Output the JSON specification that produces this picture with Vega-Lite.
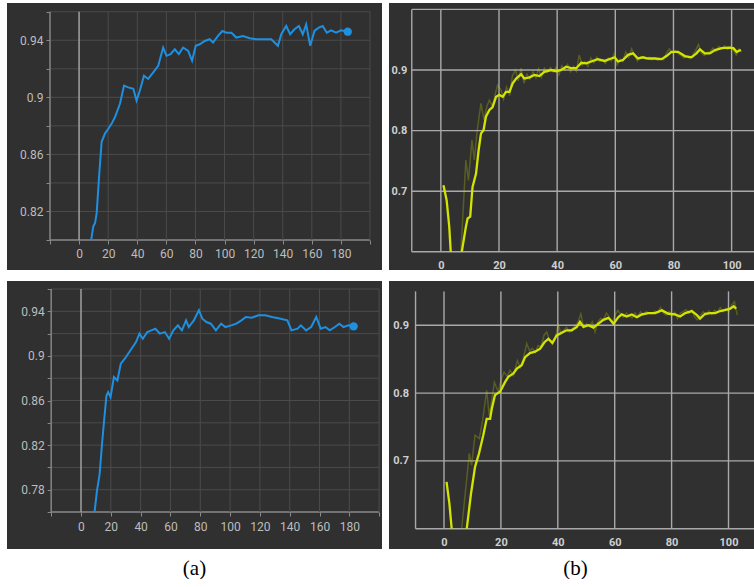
{
  "$schema": "https://vega.github.io/schema/vega-lite/v6.json",
  "padding": {"left": 7, "top": 3, "right": 0, "bottom": 0},
  "background": "#ffffff",
  "config": {
    "view": {"fill": "#303030", "stroke": null},
    "axis": {"labelFont": "Roboto", "labelOverlap": false, "labelFlush": false, "grid": false, "domain": false, "zindex": 1}
  },
  "datasets": {
    "tl_h": [{"v":0.80},{"v":0.82},{"v":0.84},{"v":0.86},{"v":0.88},{"v":0.90},{"v":0.92},{"v":0.94},{"v":0.96}],
    "lv": [{"v":-20},{"v":0},{"v":20},{"v":40},{"v":60},{"v":80},{"v":100},{"v":120},{"v":140},{"v":160},{"v":180},{"v":200}],
    "bl_h": [{"v":0.76},{"v":0.78},{"v":0.80},{"v":0.82},{"v":0.84},{"v":0.86},{"v":0.88},{"v":0.90},{"v":0.92},{"v":0.94},{"v":0.96}],
    "tr_h": [{"v":0.6},{"v":0.7},{"v":0.8},{"v":0.9},{"v":1.0}],
    "br_h": [{"v":0.6},{"v":0.7},{"v":0.8},{"v":0.9}],
    "rv": [{"v":-10},{"v":0},{"v":20},{"v":40},{"v":60},{"v":80},{"v":100}],
    "tl": [
      {"x":8.3,"y":0.800},{"x":9.8,"y":0.8097},{"x":11,"y":0.812},{"x":12.1,"y":0.819},{"x":13.9,"y":0.8468},{"x":15.5,"y":0.8688},{"x":17.8,"y":0.8746},{"x":20.1,"y":0.878},{"x":22.4,"y":0.8816},{"x":24.7,"y":0.8862},{"x":28.1,"y":0.8955},{"x":30.9,"y":0.9082},{"x":33.8,"y":0.907},{"x":37.3,"y":0.906},{"x":39.5,"y":0.8978},{"x":41.8,"y":0.9048},{"x":44.6,"y":0.9152},{"x":47.5,"y":0.9129},{"x":51.0,"y":0.9175},{"x":54.4,"y":0.9221},{"x":57.8,"y":0.9349},{"x":60.1,"y":0.9291},{"x":62.9,"y":0.9303},{"x":65.8,"y":0.9337},{"x":68.6,"y":0.9303},{"x":71.5,"y":0.9349},{"x":75.0,"y":0.9326},{"x":77.7,"y":0.9256},{"x":80.2,"y":0.9361},{"x":83.0,"y":0.9372},{"x":86.4,"y":0.9395},{"x":89.8,"y":0.9407},{"x":92.1,"y":0.9384},{"x":95.5,"y":0.943},{"x":98.5,"y":0.9465},{"x":101.3,"y":0.9453},{"x":104.7,"y":0.9453},{"x":108.1,"y":0.9419},{"x":112.7,"y":0.943},{"x":117.3,"y":0.9414},{"x":121.8,"y":0.9407},{"x":126.4,"y":0.9407},{"x":132.1,"y":0.9407},{"x":136.7,"y":0.9361},{"x":139,"y":0.9442},{"x":142.4,"y":0.95},{"x":145.1,"y":0.9442},{"x":148.1,"y":0.9477},{"x":151.1,"y":0.95},{"x":153.8,"y":0.9442},{"x":156.1,"y":0.9511},{"x":158.9,"y":0.9361},{"x":161.8,"y":0.9465},{"x":164.8,"y":0.9488},{"x":167.5,"y":0.95},{"x":170.3,"y":0.9453},{"x":173.3,"y":0.947},{"x":176.7,"y":0.9453},{"x":180.1,"y":0.947},{"x":184.7,"y":0.946}
    ],
    "tl_end": [{"x":184.7,"y":0.946}],
    "bl": [
      {"x":9.1,"y":0.76},{"x":10.7,"y":0.779},{"x":12.5,"y":0.794},{"x":14.1,"y":0.821},{"x":15.7,"y":0.845},{"x":17.1,"y":0.8645},{"x":18.2,"y":0.8675},{"x":19.8,"y":0.863},{"x":22.1,"y":0.881},{"x":24.4,"y":0.878},{"x":26.7,"y":0.893},{"x":29.4,"y":0.8975},{"x":32.4,"y":0.9035},{"x":34.7,"y":0.908},{"x":36.9,"y":0.9124},{"x":39.2,"y":0.92},{"x":41.5,"y":0.9154},{"x":44.5,"y":0.9214},{"x":47.2,"y":0.9229},{"x":49.9,"y":0.9244},{"x":52.9,"y":0.92},{"x":56.3,"y":0.9214},{"x":59.1,"y":0.9154},{"x":62.0,"y":0.9229},{"x":65,"y":0.9274},{"x":67.7,"y":0.9229},{"x":70.5,"y":0.9319},{"x":72.3,"y":0.9259},{"x":75.7,"y":0.9319},{"x":79.1,"y":0.941},{"x":81.4,"y":0.9334},{"x":84.1,"y":0.9304},{"x":87.1,"y":0.9289},{"x":90.5,"y":0.9229},{"x":94.0,"y":0.9289},{"x":96.9,"y":0.9259},{"x":100.8,"y":0.9274},{"x":104.2,"y":0.9289},{"x":107.6,"y":0.9319},{"x":110.6,"y":0.9349},{"x":114.5,"y":0.9343},{"x":119,"y":0.9364},{"x":123.6,"y":0.9364},{"x":128.2,"y":0.9349},{"x":133.9,"y":0.9334},{"x":138.4,"y":0.9319},{"x":141.2,"y":0.9229},{"x":145.3,"y":0.9244},{"x":147.5,"y":0.9274},{"x":151,"y":0.9229},{"x":154.4,"y":0.9259},{"x":157.8,"y":0.9349},{"x":160.8,"y":0.9244},{"x":164,"y":0.9259},{"x":166.9,"y":0.9229},{"x":170.3,"y":0.9259},{"x":173.3,"y":0.9289},{"x":176.1,"y":0.9259},{"x":179.5,"y":0.9274},{"x":182.9,"y":0.9265}
    ],
    "bl_end": [{"x":182.9,"y":0.9265}],
    "tr_s": [
      {"seg":1,"x":0.9,"y":0.710},{"seg":1,"x":2.0,"y":0.685},{"seg":1,"x":2.9,"y":0.641},{"seg":1,"x":3.4,"y":0.6},
      {"seg":2,"x":7.2,"y":0.6},{"seg":2,"x":8.6,"y":0.641},{"seg":2,"x":9.2,"y":0.655},{"seg":2,"x":10.1,"y":0.658},{"seg":2,"x":10.9,"y":0.707},{"seg":2,"x":12.1,"y":0.729},{"seg":2,"x":13.0,"y":0.768},{"seg":2,"x":13.8,"y":0.795},{"seg":2,"x":14.7,"y":0.801},{"seg":2,"x":15.5,"y":0.823},{"seg":2,"x":16.7,"y":0.834},{"seg":2,"x":17.8,"y":0.839},{"seg":2,"x":19.0,"y":0.856},{"seg":2,"x":20.1,"y":0.859},{"seg":2,"x":21.3,"y":0.856},{"seg":2,"x":22.4,"y":0.864},{"seg":2,"x":23.6,"y":0.864},{"seg":2,"x":24.7,"y":0.878},{"seg":2,"x":25.9,"y":0.886},{"seg":2,"x":27.6,"y":0.893},{"seg":2,"x":28.7,"y":0.886},{"seg":2,"x":30.5,"y":0.888},{"seg":2,"x":32.2,"y":0.892},{"seg":2,"x":33.9,"y":0.890},{"seg":2,"x":35.6,"y":0.897},{"seg":2,"x":37.9,"y":0.900},{"seg":2,"x":39.7,"y":0.898},{"seg":2,"x":41.4,"y":0.900},{"seg":2,"x":43.1,"y":0.9055},{"seg":2,"x":44.8,"y":0.903},{"seg":2,"x":46.6,"y":0.903},{"seg":2,"x":48.3,"y":0.912},{"seg":2,"x":50,"y":0.911},{"seg":2,"x":51.7,"y":0.914},{"seg":2,"x":54,"y":0.918},{"seg":2,"x":56.3,"y":0.915},{"seg":2,"x":58.6,"y":0.919},{"seg":2,"x":59.8,"y":0.921},{"seg":2,"x":60.9,"y":0.914},{"seg":2,"x":62.6,"y":0.9165},{"seg":2,"x":64.4,"y":0.925},{"seg":2,"x":66.1,"y":0.9275},{"seg":2,"x":67.8,"y":0.919},{"seg":2,"x":69.5,"y":0.921},{"seg":2,"x":71.3,"y":0.919},{"seg":2,"x":73.6,"y":0.919},{"seg":2,"x":75.9,"y":0.918},{"seg":2,"x":77.6,"y":0.923},{"seg":2,"x":79.3,"y":0.930},{"seg":2,"x":81.6,"y":0.930},{"seg":2,"x":83.9,"y":0.923},{"seg":2,"x":86.2,"y":0.921},{"seg":2,"x":87.9,"y":0.9275},{"seg":2,"x":89.1,"y":0.934},{"seg":2,"x":90.8,"y":0.9275},{"seg":2,"x":92.5,"y":0.9275},{"seg":2,"x":94.3,"y":0.933},{"seg":2,"x":96.6,"y":0.936},{"seg":2,"x":98.9,"y":0.937},{"seg":2,"x":100.6,"y":0.936},{"seg":2,"x":101.7,"y":0.930},{"seg":2,"x":103.2,"y":0.933}
    ],
    "tr_r": [
      {"x":6.9,"y":0.6},{"x":8.6,"y":0.7515},{"x":9.5,"y":0.718},{"x":10.7,"y":0.7845},{"x":11.5,"y":0.7515},{"x":12.5,"y":0.80},{"x":13.8,"y":0.845},{"x":14.9,"y":0.8175},{"x":15.8,"y":0.84},{"x":16.7,"y":0.8505},{"x":17.8,"y":0.8395},{"x":18.7,"y":0.86},{"x":19.5,"y":0.875},{"x":20.7,"y":0.867},{"x":21.6,"y":0.852},{"x":22.6,"y":0.872},{"x":23.7,"y":0.858},{"x":24.6,"y":0.89},{"x":25.7,"y":0.90},{"x":26.6,"y":0.882},{"x":27.6,"y":0.903},{"x":28.6,"y":0.878},{"x":29.6,"y":0.893},{"x":30.6,"y":0.885},{"x":31.7,"y":0.897},{"x":32.7,"y":0.887},{"x":33.6,"y":0.902},{"x":34.6,"y":0.888},{"x":35.6,"y":0.903},{"x":36.6,"y":0.896},{"x":37.7,"y":0.904},{"x":38.7,"y":0.897},{"x":39.7,"y":0.905},{"x":40.6,"y":0.892},{"x":41.6,"y":0.907},{"x":42.6,"y":0.9},{"x":43.6,"y":0.909},{"x":44.6,"y":0.897},{"x":45.6,"y":0.906},{"x":46.6,"y":0.898},{"x":47.6,"y":0.925},{"x":48.6,"y":0.908},{"x":49.6,"y":0.914},{"x":50.6,"y":0.906},{"x":51.6,"y":0.92},{"x":52.6,"y":0.912},{"x":53.6,"y":0.921},{"x":54.6,"y":0.914},{"x":55.6,"y":0.917},{"x":56.6,"y":0.911},{"x":57.6,"y":0.92},{"x":58.6,"y":0.915},{"x":59.6,"y":0.927},{"x":60.6,"y":0.908},{"x":61.6,"y":0.918},{"x":62.6,"y":0.914},{"x":63.6,"y":0.93},{"x":64.6,"y":0.921},{"x":65.6,"y":0.935},{"x":66.6,"y":0.925},{"x":67.6,"y":0.915},{"x":68.6,"y":0.922},{"x":69.6,"y":0.92},{"x":70.6,"y":0.918},{"x":71.6,"y":0.921},{"x":72.6,"y":0.917},{"x":73.6,"y":0.92},{"x":74.6,"y":0.916},{"x":75.6,"y":0.919},{"x":76.6,"y":0.917},{"x":77.6,"y":0.928},{"x":78.6,"y":0.935},{"x":79.6,"y":0.928},{"x":80.6,"y":0.932},{"x":81.6,"y":0.927},{"x":82.6,"y":0.924},{"x":83.6,"y":0.92},{"x":84.6,"y":0.922},{"x":85.6,"y":0.919},{"x":86.6,"y":0.925},{"x":87.6,"y":0.932},{"x":88.6,"y":0.942},{"x":89.6,"y":0.928},{"x":90.6,"y":0.924},{"x":91.6,"y":0.929},{"x":92.6,"y":0.93},{"x":93.6,"y":0.936},{"x":94.6,"y":0.931},{"x":95.6,"y":0.939},{"x":96.6,"y":0.935},{"x":97.6,"y":0.94},{"x":98.6,"y":0.934},{"x":99.6,"y":0.939},{"x":100.6,"y":0.933},{"x":101.6,"y":0.925},{"x":102.6,"y":0.935},{"x":103.4,"y":0.93}
    ],
    "br_s": [
      {"seg":1,"x":0.9,"y":0.669},{"seg":1,"x":1.9,"y":0.637},{"seg":1,"x":2.7,"y":0.6},
      {"seg":2,"x":8.0,"y":0.6},{"seg":2,"x":9.5,"y":0.652},{"seg":2,"x":10.9,"y":0.691},{"seg":2,"x":12.3,"y":0.711},{"seg":2,"x":13.8,"y":0.738},{"seg":2,"x":15.0,"y":0.762},{"seg":2,"x":16.2,"y":0.762},{"seg":2,"x":16.8,"y":0.777},{"seg":2,"x":17.9,"y":0.797},{"seg":2,"x":19.7,"y":0.802},{"seg":2,"x":21.5,"y":0.8165},{"seg":2,"x":22.6,"y":0.824},{"seg":2,"x":24.4,"y":0.829},{"seg":2,"x":25.6,"y":0.836},{"seg":2,"x":27.3,"y":0.841},{"seg":2,"x":28.5,"y":0.853},{"seg":2,"x":30.2,"y":0.859},{"seg":2,"x":32,"y":0.861},{"seg":2,"x":33.8,"y":0.8656},{"seg":2,"x":35.3,"y":0.875},{"seg":2,"x":36.7,"y":0.880},{"seg":2,"x":38.1,"y":0.874},{"seg":2,"x":39.6,"y":0.885},{"seg":2,"x":41.4,"y":0.889},{"seg":2,"x":43.1,"y":0.8926},{"seg":2,"x":44.9,"y":0.8926},{"seg":2,"x":46.7,"y":0.8975},{"seg":2,"x":47.8,"y":0.905},{"seg":2,"x":49.0,"y":0.8975},{"seg":2,"x":50.8,"y":0.900},{"seg":2,"x":52.5,"y":0.8966},{"seg":2,"x":54.3,"y":0.9025},{"seg":2,"x":56.0,"y":0.908},{"seg":2,"x":57.8,"y":0.911},{"seg":2,"x":59.6,"y":0.9025},{"seg":2,"x":61.3,"y":0.912},{"seg":2,"x":62.5,"y":0.916},{"seg":2,"x":64.2,"y":0.913},{"seg":2,"x":66,"y":0.916},{"seg":2,"x":67.8,"y":0.912},{"seg":2,"x":69.5,"y":0.916},{"seg":2,"x":71.9,"y":0.918},{"seg":2,"x":74.2,"y":0.918},{"seg":2,"x":76.6,"y":0.922},{"seg":2,"x":78.9,"y":0.917},{"seg":2,"x":81.2,"y":0.916},{"seg":2,"x":83.0,"y":0.913},{"seg":2,"x":84.8,"y":0.918},{"seg":2,"x":87.1,"y":0.921},{"seg":2,"x":88.9,"y":0.915},{"seg":2,"x":90.0,"y":0.910},{"seg":2,"x":91.8,"y":0.917},{"seg":2,"x":93.6,"y":0.918},{"seg":2,"x":95.3,"y":0.918},{"seg":2,"x":97.1,"y":0.921},{"seg":2,"x":99.4,"y":0.923},{"seg":2,"x":100.6,"y":0.9246},{"seg":2,"x":101.8,"y":0.928},{"seg":2,"x":102.7,"y":0.9246}
    ],
    "br_r": [
      {"x":6.2,"y":0.6},{"x":8.9,"y":0.711},{"x":9.7,"y":0.6935},{"x":10.9,"y":0.738},{"x":12.4,"y":0.733},{"x":13.6,"y":0.76},{"x":15.0,"y":0.804},{"x":15.9,"y":0.767},{"x":16.8,"y":0.79},{"x":17.7,"y":0.816},{"x":19.1,"y":0.8016},{"x":20.1,"y":0.82},{"x":21.1,"y":0.831},{"x":22.2,"y":0.825},{"x":23.2,"y":0.8336},{"x":24.4,"y":0.826},{"x":25.8,"y":0.848},{"x":26.8,"y":0.838},{"x":27.8,"y":0.85},{"x":29.1,"y":0.873},{"x":30.1,"y":0.862},{"x":31.1,"y":0.866},{"x":32.1,"y":0.86},{"x":33.1,"y":0.87},{"x":34.1,"y":0.868},{"x":35.1,"y":0.885},{"x":36.1,"y":0.89},{"x":37.1,"y":0.878},{"x":38.1,"y":0.872},{"x":39.1,"y":0.88},{"x":40.1,"y":0.902},{"x":41.1,"y":0.888},{"x":42.1,"y":0.893},{"x":43.1,"y":0.897},{"x":44.1,"y":0.89},{"x":45.1,"y":0.895},{"x":46.1,"y":0.899},{"x":47.1,"y":0.905},{"x":48.1,"y":0.917},{"x":49.1,"y":0.897},{"x":50.1,"y":0.902},{"x":51.1,"y":0.898},{"x":52.1,"y":0.905},{"x":53.1,"y":0.89},{"x":54.1,"y":0.905},{"x":55.1,"y":0.91},{"x":56.1,"y":0.908},{"x":57.1,"y":0.918},{"x":58.1,"y":0.912},{"x":59.1,"y":0.903},{"x":60.1,"y":0.915},{"x":61.1,"y":0.922},{"x":62.1,"y":0.916},{"x":63.1,"y":0.912},{"x":64.1,"y":0.918},{"x":65.1,"y":0.914},{"x":66.1,"y":0.911},{"x":67.1,"y":0.918},{"x":68.1,"y":0.913},{"x":69.1,"y":0.92},{"x":70.1,"y":0.915},{"x":71.1,"y":0.92},{"x":72.1,"y":0.918},{"x":73.1,"y":0.917},{"x":74.1,"y":0.921},{"x":75.1,"y":0.919},{"x":76.1,"y":0.926},{"x":77.1,"y":0.918},{"x":78.1,"y":0.915},{"x":79.1,"y":0.92},{"x":80.1,"y":0.914},{"x":81.1,"y":0.919},{"x":82.1,"y":0.91},{"x":83.1,"y":0.918},{"x":84.1,"y":0.92},{"x":85.1,"y":0.923},{"x":86.1,"y":0.918},{"x":87.1,"y":0.922},{"x":88.1,"y":0.912},{"x":89.1,"y":0.908},{"x":90.1,"y":0.914},{"x":91.1,"y":0.92},{"x":92.1,"y":0.915},{"x":93.1,"y":0.921},{"x":94.1,"y":0.916},{"x":95.1,"y":0.922},{"x":96.1,"y":0.919},{"x":97.1,"y":0.926},{"x":98.1,"y":0.92},{"x":99.1,"y":0.925},{"x":100.1,"y":0.92},{"x":101.1,"y":0.93},{"x":102.1,"y":0.935},{"x":103.1,"y":0.915}
    ]
  },
  "vconcat": [
    {
      "hconcat": [
        {
          "width": 375, "height": 267,
          "layer": [
            {"data": {"name": "tl_h"}, "mark": {"type": "rule"},
             "encoding": {
               "y": {"field": "v", "type": "quantitative", "scale": {"domain": [0.779, 0.9661], "nice": false, "zero": false},
                     "axis": {"orient": "left", "offset": -43, "values": [0.80,0.82,0.84,0.86,0.88,0.90,0.92,0.94,0.96], "format": "~g", "labelExpr": "round(datum.value*100) % 4 == 2 ? datum.label : ''", "title": null, "ticks": true, "tickSize": 4, "tickColor": "#8a8a8a", "labelColor": "#bdbdbd", "labelFontSize": 12, "labelPadding": 3}},
               "x": {"datum": -20, "type": "quantitative", "scale": {"domain": [-49.56, 208.25], "nice": false, "zero": false},
                     "axis": {"orient": "bottom", "offset": -30, "values": [-20,0,20,40,60,80,100,120,140,160,180,200], "labelExpr": "datum.value >= 0 && datum.value <= 180 ? datum.label : ''", "title": null, "ticks": true, "tickSize": 4, "tickColor": "#8a8a8a", "labelColor": "#bdbdbd", "labelFontSize": 12, "labelPadding": 4}},
               "x2": {"datum": 200},
               "color": {"condition": {"test": "datum.v < 0.801", "value": "#8a8a8a"}, "value": "#4b4b4b"},
               "strokeWidth": {"condition": {"test": "datum.v < 0.801", "value": 1.6}, "value": 1}
             }},
            {"data": {"name": "lv"}, "mark": {"type": "rule"},
             "encoding": {
               "x": {"field": "v", "type": "quantitative", "scale": {"domain": [-49.56, 208.25], "nice": false, "zero": false},
                     "axis": {"orient": "bottom", "offset": -30, "values": [-20,0,20,40,60,80,100,120,140,160,180,200], "labelExpr": "datum.value >= 0 && datum.value <= 180 ? datum.label : ''", "title": null, "ticks": true, "tickSize": 4, "tickColor": "#8a8a8a", "labelColor": "#bdbdbd", "labelFontSize": 12, "labelPadding": 4}},
               "y": {"datum": 0.80, "type": "quantitative", "scale": {"domain": [0.779, 0.9661], "nice": false, "zero": false},
                     "axis": {"orient": "left", "offset": -43, "values": [0.80,0.82,0.84,0.86,0.88,0.90,0.92,0.94,0.96], "format": "~g", "labelExpr": "round(datum.value*100) % 4 == 2 ? datum.label : ''", "title": null, "ticks": true, "tickSize": 4, "tickColor": "#8a8a8a", "labelColor": "#bdbdbd", "labelFontSize": 12, "labelPadding": 3}},
               "y2": {"datum": 0.96},
               "color": {"condition": [{"test": "datum.v == 0", "value": "#9a9a9a"}, {"test": "datum.v == -20", "value": "#808080"}], "value": "#4b4b4b"},
               "strokeWidth": {"condition": {"test": "datum.v <= 0", "value": 1.6}, "value": 1}
             }},
            {"data": {"name": "tl"}, "mark": {"type": "line", "color": "#1f8fe0", "strokeWidth": 2},
             "encoding": {
               "x": {"field": "x", "type": "quantitative", "scale": {"domain": [-49.56, 208.25], "nice": false, "zero": false},
                     "axis": {"orient": "bottom", "offset": -30, "values": [-20,0,20,40,60,80,100,120,140,160,180,200], "labelExpr": "datum.value >= 0 && datum.value <= 180 ? datum.label : ''", "title": null, "ticks": true, "tickSize": 4, "tickColor": "#8a8a8a", "labelColor": "#bdbdbd", "labelFontSize": 12, "labelPadding": 4}},
               "y": {"field": "y", "type": "quantitative", "scale": {"domain": [0.779, 0.9661], "nice": false, "zero": false},
                     "axis": {"orient": "left", "offset": -43, "values": [0.80,0.82,0.84,0.86,0.88,0.90,0.92,0.94,0.96], "format": "~g", "labelExpr": "round(datum.value*100) % 4 == 2 ? datum.label : ''", "title": null, "ticks": true, "tickSize": 4, "tickColor": "#8a8a8a", "labelColor": "#bdbdbd", "labelFontSize": 12, "labelPadding": 3}}
             }},
            {"data": {"name": "tl_end"}, "mark": {"type": "point", "filled": true, "color": "#1f8fe0", "size": 70, "opacity": 1},
             "encoding": {
               "x": {"field": "x", "type": "quantitative", "scale": {"domain": [-49.56, 208.25], "nice": false, "zero": false},
                     "axis": {"orient": "bottom", "offset": -30, "values": [-20,0,20,40,60,80,100,120,140,160,180,200], "labelExpr": "datum.value >= 0 && datum.value <= 180 ? datum.label : ''", "title": null, "ticks": true, "tickSize": 4, "tickColor": "#8a8a8a", "labelColor": "#bdbdbd", "labelFontSize": 12, "labelPadding": 4}},
               "y": {"field": "y", "type": "quantitative", "scale": {"domain": [0.779, 0.9661], "nice": false, "zero": false},
                     "axis": {"orient": "left", "offset": -43, "values": [0.80,0.82,0.84,0.86,0.88,0.90,0.92,0.94,0.96], "format": "~g", "labelExpr": "round(datum.value*100) % 4 == 2 ? datum.label : ''", "title": null, "ticks": true, "tickSize": 4, "tickColor": "#8a8a8a", "labelColor": "#bdbdbd", "labelFontSize": 12, "labelPadding": 3}}
             }}
          ]
        },
        {
          "width": 365, "height": 267,
          "layer": [
            {"data": {"name": "tr_h"}, "mark": {"type": "rule", "color": "#a9a9a9", "strokeWidth": 1.4},
             "encoding": {
               "y": {"field": "v", "type": "quantitative", "scale": {"domain": [0.570, 1.0106], "nice": false, "zero": false},
                     "axis": {"orient": "left", "offset": -22.7, "values": [0.7,0.8,0.9], "format": "~g", "title": null, "ticks": false, "tickSize": 0, "labelColor": "#cfcfcf", "labelFontSize": 11, "labelFontWeight": "bold", "labelPadding": 5}},
               "x": {"datum": -10, "type": "quantitative", "scale": {"domain": [-17.83, 107.7], "nice": false, "zero": false},
                     "axis": {"orient": "bottom", "offset": -18.2, "values": [0,20,40,60,80,100], "title": null, "ticks": false, "tickSize": 0, "labelColor": "#cfcfcf", "labelFontSize": 11, "labelFontWeight": "bold", "labelPadding": 8}},
               "x2": {"datum": 107.7}
             }},
            {"data": {"name": "rv"}, "mark": {"type": "rule", "color": "#a9a9a9", "strokeWidth": 1.4},
             "encoding": {
               "x": {"field": "v", "type": "quantitative", "scale": {"domain": [-17.83, 107.7], "nice": false, "zero": false},
                     "axis": {"orient": "bottom", "offset": -18.2, "values": [0,20,40,60,80,100], "title": null, "ticks": false, "tickSize": 0, "labelColor": "#cfcfcf", "labelFontSize": 11, "labelFontWeight": "bold", "labelPadding": 8}},
               "y": {"datum": 0.6, "type": "quantitative", "scale": {"domain": [0.570, 1.0106], "nice": false, "zero": false},
                     "axis": {"orient": "left", "offset": -22.7, "values": [0.7,0.8,0.9], "format": "~g", "title": null, "ticks": false, "tickSize": 0, "labelColor": "#cfcfcf", "labelFontSize": 11, "labelFontWeight": "bold", "labelPadding": 5}},
               "y2": {"datum": 1.0}
             }},
            {"data": {"name": "tr_r"}, "mark": {"type": "line", "color": "#d2e400", "strokeWidth": 1.5, "opacity": 0.25},
             "encoding": {
               "x": {"field": "x", "type": "quantitative", "scale": {"domain": [-17.83, 107.7], "nice": false, "zero": false},
                     "axis": {"orient": "bottom", "offset": -18.2, "values": [0,20,40,60,80,100], "title": null, "ticks": false, "tickSize": 0, "labelColor": "#cfcfcf", "labelFontSize": 11, "labelFontWeight": "bold", "labelPadding": 8}},
               "y": {"field": "y", "type": "quantitative", "scale": {"domain": [0.570, 1.0106], "nice": false, "zero": false},
                     "axis": {"orient": "left", "offset": -22.7, "values": [0.7,0.8,0.9], "format": "~g", "title": null, "ticks": false, "tickSize": 0, "labelColor": "#cfcfcf", "labelFontSize": 11, "labelFontWeight": "bold", "labelPadding": 5}}
             }},
            {"data": {"name": "tr_s"}, "mark": {"type": "line", "color": "#d2e400", "strokeWidth": 2.3},
             "encoding": {
               "detail": {"field": "seg", "type": "nominal"},
               "x": {"field": "x", "type": "quantitative", "scale": {"domain": [-17.83, 107.7], "nice": false, "zero": false},
                     "axis": {"orient": "bottom", "offset": -18.2, "values": [0,20,40,60,80,100], "title": null, "ticks": false, "tickSize": 0, "labelColor": "#cfcfcf", "labelFontSize": 11, "labelFontWeight": "bold", "labelPadding": 8}},
               "y": {"field": "y", "type": "quantitative", "scale": {"domain": [0.570, 1.0106], "nice": false, "zero": false},
                     "axis": {"orient": "left", "offset": -22.7, "values": [0.7,0.8,0.9], "format": "~g", "title": null, "ticks": false, "tickSize": 0, "labelColor": "#cfcfcf", "labelFontSize": 11, "labelFontWeight": "bold", "labelPadding": 5}}
             }}
          ]
        }
      ],
      "spacing": 7
    },
    {
      "hconcat": [
        {
          "width": 375, "height": 268,
          "title": {"text": "(a)", "orient": "bottom", "anchor": "middle", "font": "Liberation Serif", "fontSize": 21, "fontWeight": "normal", "color": "#000000", "offset": 9},
          "layer": [
            {"data": {"name": "bl_h"}, "mark": {"type": "rule"},
             "encoding": {
               "y": {"field": "v", "type": "quantitative", "scale": {"domain": [0.7268, 0.9672], "nice": false, "zero": false},
                     "axis": {"orient": "left", "offset": -44.2, "values": [0.76,0.78,0.80,0.82,0.84,0.86,0.88,0.90,0.92,0.94,0.96], "format": "~g", "labelExpr": "round(datum.value*100) % 4 == 2 ? datum.label : ''", "title": null, "ticks": true, "tickSize": 4, "tickColor": "#8a8a8a", "labelColor": "#bdbdbd", "labelFontSize": 12, "labelPadding": 3}},
               "x": {"datum": -20, "type": "quantitative", "scale": {"domain": [-49.64, 201.92], "nice": false, "zero": false},
                     "axis": {"orient": "bottom", "offset": -37, "values": [-20,0,20,40,60,80,100,120,140,160,180,200], "labelExpr": "datum.value >= 0 && datum.value <= 180 ? datum.label : ''", "title": null, "ticks": true, "tickSize": 4, "tickColor": "#8a8a8a", "labelColor": "#bdbdbd", "labelFontSize": 12, "labelPadding": 5}},
               "x2": {"datum": 200},
               "color": {"condition": {"test": "datum.v < 0.761", "value": "#8a8a8a"}, "value": "#4b4b4b"},
               "strokeWidth": {"condition": {"test": "datum.v < 0.761", "value": 1.6}, "value": 1}
             }},
            {"data": {"name": "lv"}, "mark": {"type": "rule"},
             "encoding": {
               "x": {"field": "v", "type": "quantitative", "scale": {"domain": [-49.64, 201.92], "nice": false, "zero": false},
                     "axis": {"orient": "bottom", "offset": -37, "values": [-20,0,20,40,60,80,100,120,140,160,180,200], "labelExpr": "datum.value >= 0 && datum.value <= 180 ? datum.label : ''", "title": null, "ticks": true, "tickSize": 4, "tickColor": "#8a8a8a", "labelColor": "#bdbdbd", "labelFontSize": 12, "labelPadding": 5}},
               "y": {"datum": 0.76, "type": "quantitative", "scale": {"domain": [0.7268, 0.9672], "nice": false, "zero": false},
                     "axis": {"orient": "left", "offset": -44.2, "values": [0.76,0.78,0.80,0.82,0.84,0.86,0.88,0.90,0.92,0.94,0.96], "format": "~g", "labelExpr": "round(datum.value*100) % 4 == 2 ? datum.label : ''", "title": null, "ticks": true, "tickSize": 4, "tickColor": "#8a8a8a", "labelColor": "#bdbdbd", "labelFontSize": 12, "labelPadding": 3}},
               "y2": {"datum": 0.96},
               "color": {"condition": [{"test": "datum.v == 0", "value": "#9a9a9a"}, {"test": "datum.v == -20", "value": "#808080"}], "value": "#4b4b4b"},
               "strokeWidth": {"condition": {"test": "datum.v <= 0", "value": 1.6}, "value": 1}
             }},
            {"data": {"name": "bl"}, "mark": {"type": "line", "color": "#1f8fe0", "strokeWidth": 2},
             "encoding": {
               "x": {"field": "x", "type": "quantitative", "scale": {"domain": [-49.64, 201.92], "nice": false, "zero": false},
                     "axis": {"orient": "bottom", "offset": -37, "values": [-20,0,20,40,60,80,100,120,140,160,180,200], "labelExpr": "datum.value >= 0 && datum.value <= 180 ? datum.label : ''", "title": null, "ticks": true, "tickSize": 4, "tickColor": "#8a8a8a", "labelColor": "#bdbdbd", "labelFontSize": 12, "labelPadding": 5}},
               "y": {"field": "y", "type": "quantitative", "scale": {"domain": [0.7268, 0.9672], "nice": false, "zero": false},
                     "axis": {"orient": "left", "offset": -44.2, "values": [0.76,0.78,0.80,0.82,0.84,0.86,0.88,0.90,0.92,0.94,0.96], "format": "~g", "labelExpr": "round(datum.value*100) % 4 == 2 ? datum.label : ''", "title": null, "ticks": true, "tickSize": 4, "tickColor": "#8a8a8a", "labelColor": "#bdbdbd", "labelFontSize": 12, "labelPadding": 3}}
             }},
            {"data": {"name": "bl_end"}, "mark": {"type": "point", "filled": true, "color": "#1f8fe0", "size": 70, "opacity": 1},
             "encoding": {
               "x": {"field": "x", "type": "quantitative", "scale": {"domain": [-49.64, 201.92], "nice": false, "zero": false},
                     "axis": {"orient": "bottom", "offset": -37, "values": [-20,0,20,40,60,80,100,120,140,160,180,200], "labelExpr": "datum.value >= 0 && datum.value <= 180 ? datum.label : ''", "title": null, "ticks": true, "tickSize": 4, "tickColor": "#8a8a8a", "labelColor": "#bdbdbd", "labelFontSize": 12, "labelPadding": 5}},
               "y": {"field": "y", "type": "quantitative", "scale": {"domain": [0.7268, 0.9672], "nice": false, "zero": false},
                     "axis": {"orient": "left", "offset": -44.2, "values": [0.76,0.78,0.80,0.82,0.84,0.86,0.88,0.90,0.92,0.94,0.96], "format": "~g", "labelExpr": "round(datum.value*100) % 4 == 2 ? datum.label : ''", "title": null, "ticks": true, "tickSize": 4, "tickColor": "#8a8a8a", "labelColor": "#bdbdbd", "labelFontSize": 12, "labelPadding": 3}}
             }}
          ]
        },
        {
          "width": 365, "height": 268,
          "title": {"text": "(b)", "orient": "bottom", "anchor": "middle", "font": "Liberation Serif", "fontSize": 21, "fontWeight": "normal", "color": "#000000", "offset": 9, "dx": 4},
          "layer": [
            {"data": {"name": "br_h"}, "mark": {"type": "rule", "color": "#a9a9a9", "strokeWidth": 1.4},
             "encoding": {
               "y": {"field": "v", "type": "quantitative", "scale": {"domain": [0.5701, 0.9653], "nice": false, "zero": false},
                     "axis": {"orient": "left", "offset": -26.5, "values": [0.7,0.8,0.9], "format": "~g", "title": null, "ticks": false, "tickSize": 0, "labelColor": "#cfcfcf", "labelFontSize": 11, "labelFontWeight": "bold", "labelPadding": 7}},
               "x": {"datum": -10, "type": "quantitative", "scale": {"domain": [-19.33, 108.96], "nice": false, "zero": false},
                     "axis": {"orient": "bottom", "offset": -20.3, "values": [0,20,40,60,80,100], "title": null, "ticks": false, "tickSize": 0, "labelColor": "#cfcfcf", "labelFontSize": 11, "labelFontWeight": "bold", "labelPadding": 8}},
               "x2": {"datum": 108.96}
             }},
            {"data": {"name": "rv"}, "mark": {"type": "rule", "color": "#a9a9a9", "strokeWidth": 1.4},
             "encoding": {
               "x": {"field": "v", "type": "quantitative", "scale": {"domain": [-19.33, 108.96], "nice": false, "zero": false},
                     "axis": {"orient": "bottom", "offset": -20.3, "values": [0,20,40,60,80,100], "title": null, "ticks": false, "tickSize": 0, "labelColor": "#cfcfcf", "labelFontSize": 11, "labelFontWeight": "bold", "labelPadding": 8}},
               "y": {"datum": 0.6, "type": "quantitative", "scale": {"domain": [0.5701, 0.9653], "nice": false, "zero": false},
                     "axis": {"orient": "left", "offset": -26.5, "values": [0.7,0.8,0.9], "format": "~g", "title": null, "ticks": false, "tickSize": 0, "labelColor": "#cfcfcf", "labelFontSize": 11, "labelFontWeight": "bold", "labelPadding": 7}},
               "y2": {"datum": 0.95}
             }},
            {"data": {"name": "br_r"}, "mark": {"type": "line", "color": "#d2e400", "strokeWidth": 1.5, "opacity": 0.25},
             "encoding": {
               "x": {"field": "x", "type": "quantitative", "scale": {"domain": [-19.33, 108.96], "nice": false, "zero": false},
                     "axis": {"orient": "bottom", "offset": -20.3, "values": [0,20,40,60,80,100], "title": null, "ticks": false, "tickSize": 0, "labelColor": "#cfcfcf", "labelFontSize": 11, "labelFontWeight": "bold", "labelPadding": 8}},
               "y": {"field": "y", "type": "quantitative", "scale": {"domain": [0.5701, 0.9653], "nice": false, "zero": false},
                     "axis": {"orient": "left", "offset": -26.5, "values": [0.7,0.8,0.9], "format": "~g", "title": null, "ticks": false, "tickSize": 0, "labelColor": "#cfcfcf", "labelFontSize": 11, "labelFontWeight": "bold", "labelPadding": 7}}
             }},
            {"data": {"name": "br_s"}, "mark": {"type": "line", "color": "#d2e400", "strokeWidth": 2.3},
             "encoding": {
               "detail": {"field": "seg", "type": "nominal"},
               "x": {"field": "x", "type": "quantitative", "scale": {"domain": [-19.33, 108.96], "nice": false, "zero": false},
                     "axis": {"orient": "bottom", "offset": -20.3, "values": [0,20,40,60,80,100], "title": null, "ticks": false, "tickSize": 0, "labelColor": "#cfcfcf", "labelFontSize": 11, "labelFontWeight": "bold", "labelPadding": 8}},
               "y": {"field": "y", "type": "quantitative", "scale": {"domain": [0.5701, 0.9653], "nice": false, "zero": false},
                     "axis": {"orient": "left", "offset": -26.5, "values": [0.7,0.8,0.9], "format": "~g", "title": null, "ticks": false, "tickSize": 0, "labelColor": "#cfcfcf", "labelFontSize": 11, "labelFontWeight": "bold", "labelPadding": 7}}
             }}
          ]
        }
      ],
      "spacing": 7
    }
  ],
  "spacing": 10
}
